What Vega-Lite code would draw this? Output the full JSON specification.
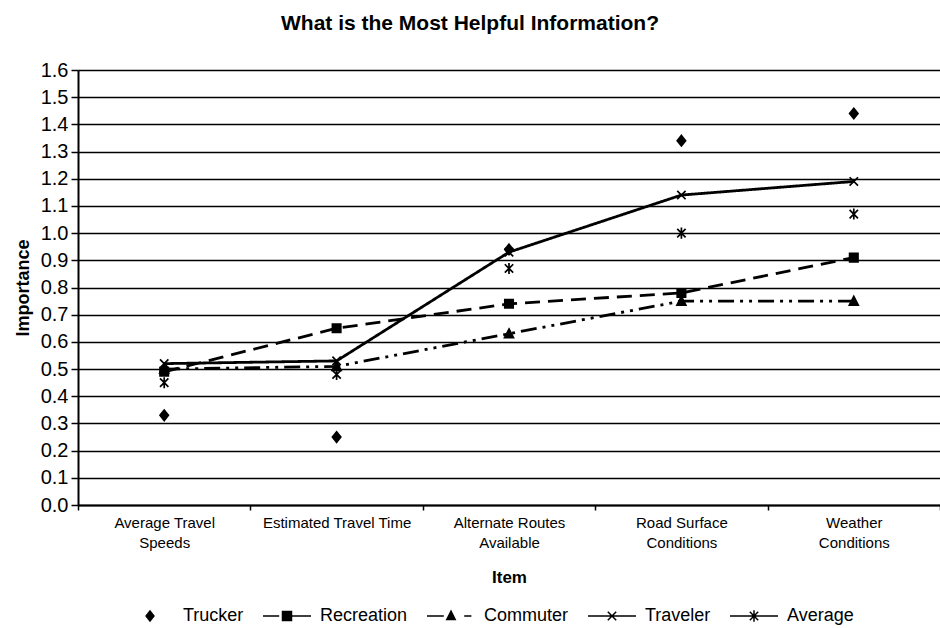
{
  "$schema": "https://vega.github.io/schema/vega-lite/v6.json",
  "autosize": {"type": "none"},
  "width": 862,
  "height": 435,
  "padding": {"left": 78, "top": 70, "right": 0, "bottom": 123},
  "background": "white",
  "title": {
    "text": "What is the Most Helpful Information?",
    "font": "Liberation Sans",
    "fontSize": 21,
    "fontWeight": "bold",
    "color": "black",
    "anchor": "middle",
    "frame": "group",
    "baseline": "alphabetic",
    "offset": 9,
    "dx": -39
  },
  "config": {
    "view": {"stroke": null},
    "font": "Liberation Sans",
    "axis": {
      "labelFont": "Liberation Sans",
      "titleFont": "Liberation Sans",
      "labelColor": "black",
      "titleColor": "black",
      "domainColor": "black",
      "tickColor": "black",
      "gridColor": "black"
    }
  },
  "data": {
    "values": [
      {"item": "Average Travel Speeds", "series": "Trucker", "importance": 0.33},
      {"item": "Estimated  Travel Time", "series": "Trucker", "importance": 0.25},
      {"item": "Alternate Routes Available", "series": "Trucker", "importance": 0.94},
      {"item": "Road Surface Conditions", "series": "Trucker", "importance": 1.34},
      {"item": "Weather Conditions", "series": "Trucker", "importance": 1.44},
      {"item": "Average Travel Speeds", "series": "Recreation", "importance": 0.49},
      {"item": "Estimated  Travel Time", "series": "Recreation", "importance": 0.65},
      {"item": "Alternate Routes Available", "series": "Recreation", "importance": 0.74},
      {"item": "Road Surface Conditions", "series": "Recreation", "importance": 0.78},
      {"item": "Weather Conditions", "series": "Recreation", "importance": 0.91},
      {"item": "Average Travel Speeds", "series": "Commuter", "importance": 0.50},
      {"item": "Estimated  Travel Time", "series": "Commuter", "importance": 0.51},
      {"item": "Alternate Routes Available", "series": "Commuter", "importance": 0.63},
      {"item": "Road Surface Conditions", "series": "Commuter", "importance": 0.75},
      {"item": "Weather Conditions", "series": "Commuter", "importance": 0.75},
      {"item": "Average Travel Speeds", "series": "Traveler", "importance": 0.52},
      {"item": "Estimated  Travel Time", "series": "Traveler", "importance": 0.53},
      {"item": "Alternate Routes Available", "series": "Traveler", "importance": 0.93},
      {"item": "Road Surface Conditions", "series": "Traveler", "importance": 1.14},
      {"item": "Weather Conditions", "series": "Traveler", "importance": 1.19},
      {"item": "Average Travel Speeds", "series": "Average", "importance": 0.45},
      {"item": "Estimated  Travel Time", "series": "Average", "importance": 0.48},
      {"item": "Alternate Routes Available", "series": "Average", "importance": 0.87},
      {"item": "Road Surface Conditions", "series": "Average", "importance": 1.00},
      {"item": "Weather Conditions", "series": "Average", "importance": 1.07}
    ]
  },
  "encoding": {
    "x": {
      "field": "item",
      "type": "nominal",
      "sort": ["Average Travel Speeds", "Estimated  Travel Time", "Alternate Routes Available", "Road Surface Conditions", "Weather Conditions"],
      "scale": {"type": "band", "paddingInner": 0, "paddingOuter": 0},
      "axis": {
        "title": "Item",
        "titleFontSize": 17,
        "titleFontWeight": "bold",
        "titlePadding": 19,
        "labelAngle": 0,
        "labelFontSize": 15,
        "labelLineHeight": 20,
        "labelPadding": 5,
        "labelExpr": "datum.value == 'Average Travel Speeds' ? ['Average Travel', 'Speeds'] : datum.value == 'Alternate Routes Available' ? ['Alternate Routes', 'Available'] : datum.value == 'Road Surface Conditions' ? ['Road Surface', 'Conditions'] : datum.value == 'Weather Conditions' ? ['Weather', 'Conditions'] : datum.value",
        "tickBand": "extent",
        "tickSize": 5,
        "tickWidth": 1.5,
        "domainWidth": 2,
        "grid": false
      }
    },
    "y": {
      "field": "importance",
      "type": "quantitative",
      "scale": {"domain": [0, 1.6], "nice": false, "zero": true},
      "axis": {
        "title": "Importance",
        "titleFontSize": 18,
        "titleFontWeight": "bold",
        "titlePadding": 8,
        "values": [0, 0.1, 0.2, 0.3, 0.4, 0.5, 0.6, 0.7, 0.8, 0.9, 1.0, 1.1, 1.2, 1.3, 1.4, 1.5, 1.6],
        "format": ".1f",
        "labelFontSize": 20,
        "labelPadding": 3,
        "tickSize": 7,
        "tickWidth": 1.5,
        "domainWidth": 2,
        "grid": true,
        "gridWidth": 1.7,
        "gridOpacity": 1
      }
    }
  },
  "resolve": {"scale": {"shape": "independent"}, "legend": {"shape": "independent"}},
  "layer": [
    {
      "transform": [{"filter": {"field": "series", "oneOf": ["Recreation", "Commuter", "Traveler"]}}],
      "mark": {"type": "line", "color": "black", "strokeWidth": 2.8},
      "encoding": {
        "detail": {"field": "series"},
        "order": {"value": null},
        "strokeDash": {
          "field": "series",
          "type": "nominal",
          "scale": {"domain": ["Recreation", "Commuter", "Traveler"], "range": [[15, 8], [16, 6, 3, 6, 3, 6], [1, 0]]},
          "legend": null
        }
      }
    },
    {
      "mark": {"type": "point", "filled": true, "fill": "black", "stroke": "black", "strokeWidth": 1.7, "opacity": 1},
      "encoding": {
        "shape": {
          "field": "series",
          "type": "nominal",
          "scale": {
            "domain": ["Trucker", "Recreation", "Commuter", "Traveler", "Average"],
            "range": [
              "M0,-1L0.8,0L0,1L-0.8,0Z",
              "M-0.8,-0.8H0.8V0.8H-0.8Z",
              "M0,-0.9L0.85,0.75L-0.85,0.75Z",
              "M-0.8,-0.8L0.8,0.8M-0.8,0.8L0.8,-0.8",
              "M-0.8,-0.8L0.8,0.8M-0.8,0.8L0.8,-0.8M0,-1.05L0,1.05"
            ]
          },
          "legend": null
        },
        "size": {"value": 110}
      }
    },
    {
      "mark": {"type": "point", "filled": true, "fill": "black", "stroke": "black", "opacity": 0},
      "encoding": {
        "shape": {
          "field": "series",
          "type": "nominal",
          "scale": {
            "domain": ["Trucker", "Recreation", "Commuter", "Traveler", "Average"],
            "range": [
              "M0,-0.85L0.65,0L0,0.85L-0.65,0Z",
              "M-4,0H-1.3M0,0H4M-0.75,-0.75H0.75V0.75H-0.75Z",
              "M-4,0H-1.2M2.2,0H3.4M0,-0.8L0.7,0.6L-0.7,0.6Z",
              "M-4,0H4M-0.7,-0.7L0.7,0.7M-0.7,0.7L0.7,-0.7",
              "M-4,0H4M-0.7,-0.7L0.7,0.7M-0.7,0.7L0.7,-0.7M0,-0.95L0,0.95"
            ]
          },
          "legend": {
            "title": null,
            "orient": "none",
            "direction": "horizontal",
            "legendX": 63,
            "legendY": 537,
            "padding": 0,
            "columnPadding": 16,
            "labelOffset": 24,
            "labelFont": "Liberation Sans",
            "labelFontSize": 18,
            "labelColor": "black",
            "symbolSize": 144,
            "symbolOpacity": 1,
            "encode": {
              "symbols": {
                "fill": {"value": "black"},
                "stroke": {"value": "black"},
                "strokeWidth": {"value": 2},
                "opacity": {"value": 1}
              }
            }
          }
        },
        "size": {"value": 144}
      }
    }
  ]
}
